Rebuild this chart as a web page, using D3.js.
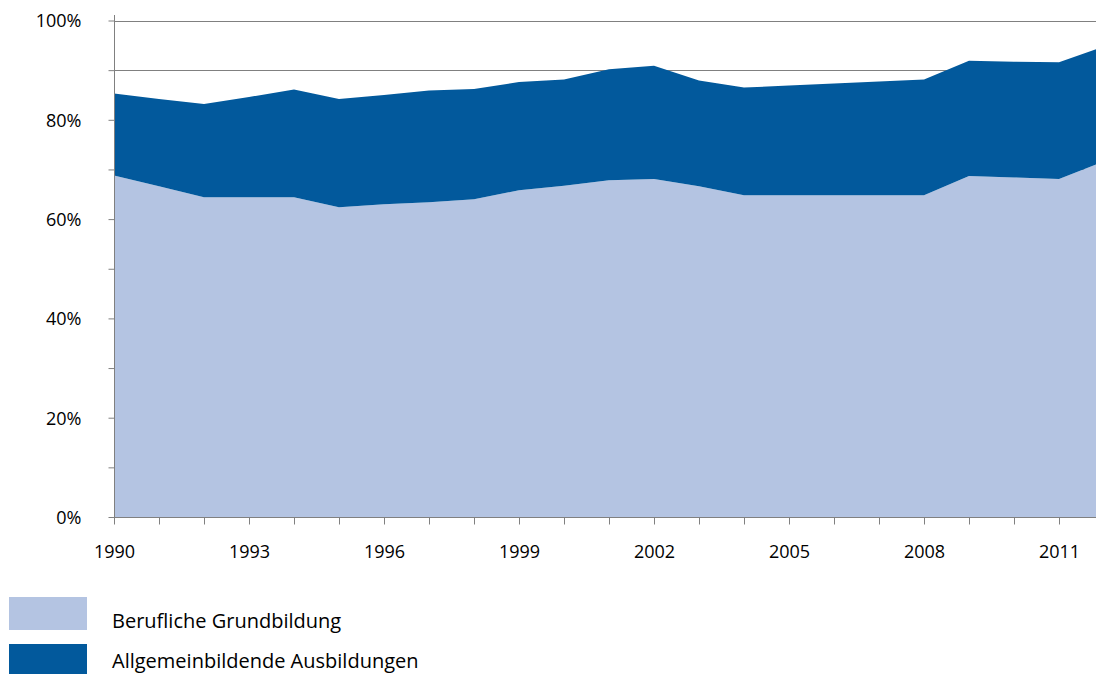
<!DOCTYPE html>
<html>
<head>
<meta charset="utf-8">
<script src="https://cdn.jsdelivr.net/npm/d3@7"></script>
<style>
  body { margin: 0; background: #fff; }
  svg { display: block; }
  text { font-family: "Open Sans", "Noto Sans", sans-serif; fill: #000; }
</style>
</head>
<body>
<svg width="1096" height="674"></svg>
<script>
// values, in percent
let years = [1990, 1991, 1992, 1993, 1994, 1995, 1996, 1997, 1998, 1999, 2000, 2001,
  2002, 2003, 2004, 2005, 2006, 2007, 2008, 2009, 2010, 2011, 2012];
let berufliche = [68.8, 66.6, 64.4, 64.4, 64.4, 62.4, 63.0, 63.4, 64.0, 65.8, 66.7, 67.8,
  68.1, 66.6, 64.8, 64.8, 64.8, 64.8, 64.8, 68.7, 68.4, 68.1, 71.6];
let allgemein = [16.5, 17.6, 18.8, 20.2, 21.7, 21.8, 22.0, 22.5, 22.2, 21.8, 21.4, 22.4,
  22.8, 21.3, 21.7, 22.1, 22.5, 22.9, 23.3, 23.2, 23.3, 23.5, 23.2];

let y_ticks = [0, 20, 40, 60, 80, 100];
let x_ticks = [1990, 1993, 1996, 1999, 2002, 2005, 2008, 2011];
let series_names = ["Berufliche Grundbildung", "Allgemeinbildende Ausbildungen"];
let series_colors = ["#b4c4e2", "#02599c"];

var svg = d3.select("svg");

// plot is cut at the right edge, last year runs past the window
var xScale = d3.scaleLinear().domain([1990, 2011]).range([114, 1059]);
var yScale = d3.scaleLinear().domain([0, 100]).range([517, 20.5]);

let table = years.map((y, i) => ({ year: y, b: berufliche[i], a: allgemein[i] }));
let stacked = d3.stack().keys(["b", "a"])(table);

// gridlines every 10%, behind the areas
svg
  .append("g")
  .selectAll("line")
  .data(d3.range(10, 101, 10))
  .enter()
  .append("line")
  .attr("x1", 114)
  .attr("x2", 1096)
  .attr("y1", d => Math.round(yScale(d)) + 0.5)
  .attr("y2", d => Math.round(yScale(d)) + 0.5)
  .attr("stroke", "#808080")
  .attr("stroke-width", 1);

var area = d3
  .area()
  .x(d => xScale(d.data.year))
  .y0(d => yScale(d[0]))
  .y1(d => yScale(d[1]));

svg
  .append("g")
  .selectAll("path")
  .data(stacked)
  .enter()
  .append("path")
  .attr("d", area)
  .attr("fill", (d, i) => series_colors[i]);

// y axis: ticks every 10, labels every 20
var yAxis = d3
  .axisLeft(yScale)
  .tickValues(d3.range(0, 101, 10))
  .tickSize(6)
  .tickPadding(27)
  .tickFormat(d => (y_ticks.includes(d) ? d + "%" : ""));

var gy = svg
  .append("g")
  .attr("transform", "translate(114.5,0)")
  .call(yAxis);
gy.select(".domain").attr("stroke", "#808080").attr("d", "M0,517V15");
gy.selectAll(".tick line").attr("stroke", "#808080");
gy.selectAll(".tick text").attr("font-size", "18px").attr("dy", "0.35em");

// x axis: ticks every year, labels every 3 years
var xAxis = d3
  .axisBottom(xScale)
  .tickValues(d3.range(1990, 2012))
  .tickSize(7)
  .tickPadding(21)
  .tickFormat(d => (x_ticks.includes(d) ? d : ""));

var gx = svg
  .append("g")
  .attr("transform", "translate(0,517.5)")
  .call(xAxis);
gx.select(".domain").attr("stroke", "#808080").attr("d", "M114,0H1096");
gx.selectAll(".tick line").attr("stroke", "#808080");
gx.selectAll(".tick text").attr("font-size", "18px");

// legend
var legend = svg
  .append("g")
  .selectAll("g")
  .data(series_names)
  .enter()
  .append("g")
  .attr("transform", (d, i) => "translate(9," + (597 + i * 47) + ")");

legend
  .append("rect")
  .attr("width", 78)
  .attr("height", 33)
  .attr("fill", (d, i) => series_colors[i]);

// second label sits at the bottom edge, pulled up a little to stay inside
legend
  .append("text")
  .attr("x", 103)
  .attr("y", (d, i) => (i === 0 ? 31 : 24))
  .attr("font-size", "20px")
  .text(d => d);
</script>
</body>
</html>
